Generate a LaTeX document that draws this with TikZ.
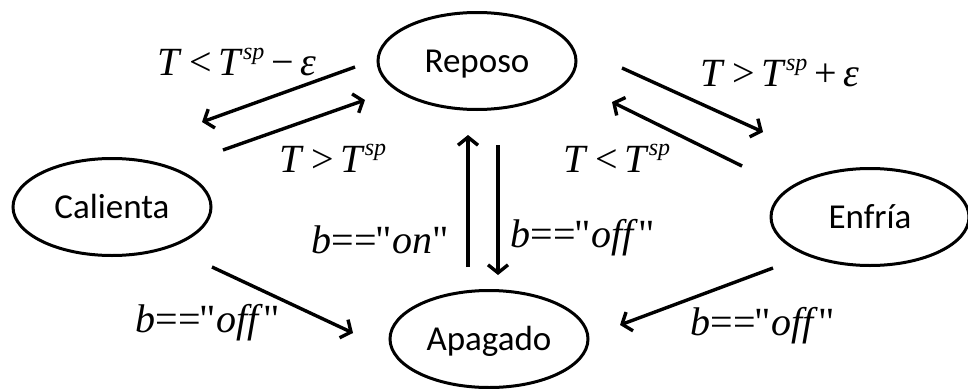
\documentclass[tikz,border=0pt]{standalone}
\usepackage{fontspec}
\setmainfont{Carlito}
\newfontfamily\tms{Liberation Serif}
\usetikzlibrary{shapes.geometric,arrows.meta}
\newcommand\spx{\raisebox{0.42em}{\fontsize{24}{24}\selectfont\itshape sp}}
\newcommand\lab[1]{{\tms\fontsize{40}{44}\selectfont #1}}
\tikzset{
  state/.style={ellipse,draw,line width=3pt,minimum width=198pt,minimum height=97pt,inner sep=0pt,font=\fontsize{35}{40}\selectfont,text height=23pt,text depth=0pt},
  conn/.style={line width=3.4pt,-{Straight Barb[length=8pt,width=20pt,line width=3.4pt]}},
  cond/.style={inner sep=0pt,anchor=center}
}
\begin{document}
\begin{tikzpicture}[x=1pt,y=-1pt]
\useasboundingbox (0,0) rectangle (968,388);
\node[state] (rep) at (477,61) {Reposo};
\node[state] (cal) at (112,207) {Calienta};
\node[state] (enf) at (870,217) {Enfría};
\node[state] (apa) at (489,339) {Apagado};
% arrow end points
\coordinate (a1s) at (355,67);  \coordinate (a1e) at (202,122);
\coordinate (a2s) at (223,150); \coordinate (a2e) at (365,100);
\coordinate (a3s) at (622,68);  \coordinate (a3e) at (763,132);
\coordinate (a4s) at (742,166); \coordinate (a4e) at (612,102);
\coordinate (a5s) at (468,267); \coordinate (a5e) at (468,135);
\coordinate (a6s) at (498,145); \coordinate (a6e) at (498,275);
\coordinate (a7s) at (212,267); \coordinate (a7e) at (353,333);
\coordinate (a8s) at (773,268); \coordinate (a8e) at (620,325);
\draw[conn] (a1s) -- (a1e);
\draw[conn] (a2s) -- (a2e);
\draw[conn] (a3s) -- (a3e);
\draw[conn] (a4s) -- (a4e);
\draw[conn] (a5s) -- (a5e);
\draw[conn] (a6s) -- (a6e);
\draw[conn] (a7s) -- (a7e);
\draw[conn] (a8s) -- (a8e);
% labels
\node[cond] (l1) at (237,62) {\lab{\textit{T}\,<\,\textit{T}\spx\,−\,\textit{ε}}};
\node[cond] (l2) at (333,158) {\lab{\textit{T}\,>\,\textit{T}\spx}};
\node[cond] (l3) at (780,73) {\lab{\textit{T}\,>\,\textit{T}\spx\,+\,\textit{ε}}};
\node[cond] (l4) at (617,158) {\lab{\textit{T}\,<\,\textit{T}\spx}};
\node[cond] (l5) at (380,240) {\lab{\textit{b}==\kern-1pt"\textit{on}"}};
\node[cond] (l6) at (583,238) {\lab{\textit{b}==\kern-1pt"\textit{off}\kern1pt"}};
\node[cond] (l7) at (208,323) {\lab{\textit{b}==\kern-1pt"\textit{off}\kern1pt"}};
\node[cond] (l8) at (763,326) {\lab{\textit{b}==\kern-1pt"\textit{off}\kern1pt"}};
\end{tikzpicture}
\end{document}
